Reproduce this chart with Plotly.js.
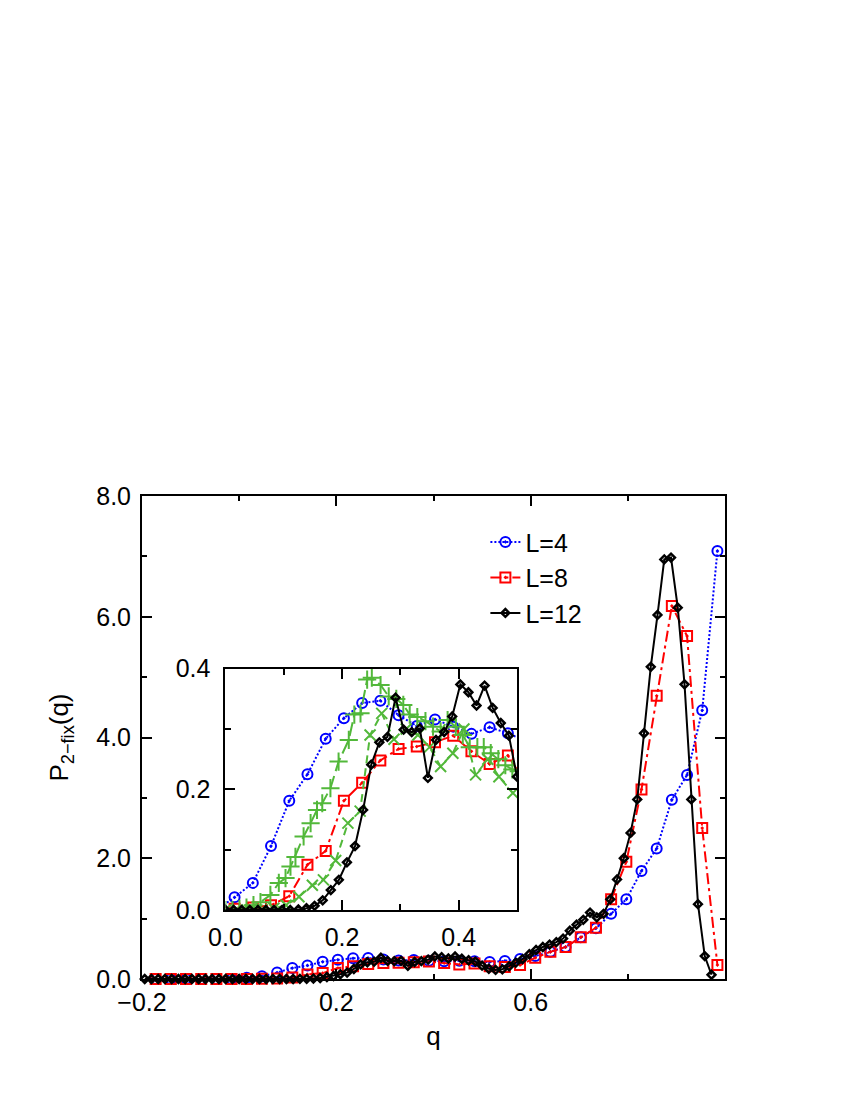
<!DOCTYPE html>
<html>
<head>
<meta charset="utf-8">
<script src="https://cdn.plot.ly/plotly-3.0.1.min.js"></script>
<style>
html,body{margin:0;padding:0;background:#fff;}
#chart{width:850px;height:1100px;}
</style>
</head>
<body>
<div id="chart"></div>
<script>
// ---- data ----
const seriesNames = ["L=4", "L=8", "L=12"];

const qL4 = [-0.1719, -0.1406, -0.1094, -0.0781, -0.0469, -0.0156, 0.0156, 0.0469, 0.0781, 0.1094, 0.1406, 0.1719, 0.2031, 0.2344, 0.2656, 0.2969, 0.3281, 0.3594, 0.3906, 0.4219, 0.4531, 0.4844, 0.5156, 0.5469, 0.5781, 0.6094, 0.6406, 0.6719, 0.7031, 0.7344, 0.7656, 0.7969, 0.8281, 0.8594, 0.8906, 0.9219, 0.9531, 0.9844];
const pL4 = [0, 0, 0, 0, 0, 0, 0.021, 0.045, 0.106, 0.181, 0.225, 0.284, 0.318, 0.343, 0.347, 0.323, 0.305, 0.316, 0.304, 0.292, 0.303, 0.293, 0.28, 0.30, 0.33, 0.38, 0.45, 0.53, 0.69, 0.84, 1.08, 1.32, 1.79, 2.16, 2.97, 3.38, 4.45, 7.09];

const qL8 = [-0.1719, -0.1406, -0.1094, -0.0781, -0.0469, -0.0156, 0.0156, 0.0469, 0.0781, 0.1094, 0.1406, 0.1719, 0.2031, 0.2344, 0.2656, 0.2969, 0.3281, 0.3594, 0.3906, 0.4219, 0.4531, 0.4844, 0.5156, 0.5469, 0.5781, 0.6094, 0.6406, 0.6719, 0.7031, 0.7344, 0.7656, 0.7969, 0.8281, 0.8594, 0.8906, 0.9219, 0.9531, 0.9844];
const pL8 = [0, 0, 0, 0, 0, 0, 0.002, 0.004, 0.008, 0.023, 0.075, 0.098, 0.181, 0.211, 0.248, 0.267, 0.271, 0.278, 0.289, 0.263, 0.242, 0.256, 0.21, 0.20, 0.23, 0.35, 0.45, 0.53, 0.69, 0.85, 1.32, 1.94, 3.14, 4.69, 6.18, 5.68, 2.50, 0.23];

const qL12 = [-0.1944, -0.1806, -0.1667, -0.1528, -0.1389, -0.125, -0.1111, -0.0972, -0.0833, -0.0694, -0.0556, -0.0417, -0.0278, -0.0139,
  0, 0.0139, 0.0278, 0.0417, 0.0556, 0.0694, 0.0833, 0.0972, 0.1111, 0.125, 0.1389, 0.1528, 0.1667, 0.1806, 0.1944, 0.2083, 0.2222, 0.2361,
  0.25, 0.2639, 0.2778, 0.2917, 0.3056, 0.3194, 0.3333, 0.3472, 0.3611, 0.375, 0.3889, 0.4028, 0.4167, 0.4306, 0.4444, 0.4583, 0.4722, 0.4861,
  0.5, 0.5139, 0.5278, 0.5417, 0.5556, 0.5694, 0.5833, 0.5972, 0.6111, 0.625, 0.6389, 0.6528, 0.6667, 0.6806, 0.6944, 0.7083, 0.7222, 0.7361,
  0.75, 0.7639, 0.7778, 0.7917, 0.8056, 0.8194, 0.8333, 0.8472, 0.8611, 0.875, 0.8889, 0.9028, 0.9167, 0.9306, 0.9444, 0.9583, 0.9722];
const pL12 = [0, 0, 0, 0, 0, 0, 0, 0, 0, 0, 0, 0, 0, 0,
  0, 0, 0, 0, 0, 0, 0, 0, 0.0, 0.001, 0.003, 0.007, 0.016, 0.033, 0.050, 0.079, 0.106, 0.166,
  0.241, 0.278, 0.287, 0.352, 0.299, 0.295, 0.301, 0.219, 0.282, 0.295, 0.321, 0.374, 0.361, 0.339, 0.372, 0.335, 0.310, 0.289,
  0.221, 0.17, 0.15, 0.16, 0.21, 0.27, 0.33, 0.41, 0.48, 0.53, 0.57, 0.61, 0.67, 0.80, 0.90, 0.98, 1.10, 1.02,
  1.08, 1.32, 1.65, 2.00, 2.42, 2.975, 4.07, 5.17, 6.03, 6.95, 6.98, 6.15, 4.88, 2.975, 1.24, 0.38, 0.07];

// inset-only green series
const qGreenPlus = [0.0, 0.012, 0.024, 0.036, 0.048, 0.06, 0.077, 0.0915, 0.103, 0.1115, 0.12, 0.134, 0.146, 0.157, 0.166, 0.18, 0.194, 0.2115, 0.221, 0.2316, 0.243, 0.251, 0.266, 0.28, 0.293, 0.305, 0.316, 0.329, 0.343, 0.356, 0.369, 0.381, 0.395, 0.407, 0.419, 0.432, 0.443, 0.455, 0.468, 0.48, 0.492, 0.503];
const pGreenPlus = [0.0, 0.0, 0.002, 0.004, 0.008, 0.013, 0.025, 0.045, 0.053, 0.072, 0.088, 0.122, 0.144, 0.166, 0.177, 0.202, 0.246, 0.282, 0.324, 0.326, 0.382, 0.385, 0.373, 0.354, 0.35, 0.34, 0.324, 0.32, 0.313, 0.304, 0.296, 0.315, 0.304, 0.29, 0.27, 0.27, 0.27, 0.26, 0.25, 0.24, 0.233, 0.23];

const qGreenCross = [0.0, 0.021, 0.042, 0.0625, 0.083, 0.104, 0.126, 0.149, 0.168, 0.189, 0.21, 0.231, 0.248, 0.268, 0.289, 0.31, 0.33, 0.35, 0.369, 0.39, 0.409, 0.429, 0.45, 0.469, 0.493];
const pGreenCross = [0.0, 0.0, 0.0, 0.001, 0.003, 0.008, 0.022, 0.041, 0.050, 0.082, 0.144, 0.164, 0.29, 0.326, 0.283, 0.30, 0.29, 0.27, 0.238, 0.26, 0.30, 0.224, 0.25, 0.221, 0.194];

// ---- styles ----
const FONT = "Liberation Sans, Arial, Helvetica, sans-serif";
const BLUE = "#0000ff", RED = "#ff0000", BLACK = "#000000", GREEN = "#52b83a";

const styleL4 = {line: {color: BLUE, width: 2, dash: "2px,2px"}, marker: {symbol: "circle-open-dot", size: 10, color: BLUE, line: {color: BLUE, width: 2}}};
const styleL8 = {line: {color: RED, width: 2, dash: "11px,4px,3px,4px"}, marker: {symbol: "square-open-dot", size: 10, color: RED, line: {color: RED, width: 2}}};
const styleL12 = {line: {color: BLACK, width: 2, dash: "solid"}, marker: {symbol: "diamond-open", size: 6, color: BLACK, line: {color: BLACK, width: 2.5}}};

function tr(x, y, style, name, xa, ya, show, clip) {
  return Object.assign({type: "scatter", mode: "lines+markers", x: x, y: y, name: name,
    xaxis: xa, yaxis: ya, showlegend: show, cliponaxis: clip, hoverinfo: "skip"}, JSON.parse(JSON.stringify(style)));
}

const traces = [
  tr(qL4, pL4, styleL4, seriesNames[0], "x", "y", true, false),
  tr(qL8, pL8, styleL8, seriesNames[1], "x", "y", true, false),
  tr(qL12, pL12, styleL12, seriesNames[2], "x", "y", true, false),
  tr(qL4, pL4, styleL4, seriesNames[0], "x2", "y2", false, true),
  tr(qL8, pL8, styleL8, seriesNames[1], "x2", "y2", false, true),
  tr(qGreenCross, pGreenCross, {line: {color: GREEN, width: 2, dash: "8px,5px"}, marker: {symbol: "x-thin-open", size: 11, color: GREEN, line: {color: GREEN, width: 2}}}, "green x", "x2", "y2", false, true),
  tr(qGreenPlus, pGreenPlus, {line: {color: GREEN, width: 2, dash: "14px,5px"}, marker: {symbol: "cross-thin-open", size: 13, color: GREEN, line: {color: GREEN, width: 2}}}, "green +", "x2", "y2", false, true),
  tr(qL12, pL12, styleL12, seriesNames[2], "x2", "y2", false, true)
];

const axCommon = {showline: true, linecolor: "#000", linewidth: 2, mirror: "ticks", ticks: "inside",
  tickcolor: "#000", tickwidth: 2, ticklen: 10, showgrid: false, zeroline: false, fixedrange: true,
  tickfont: {family: FONT, size: 25, color: "#000"}};

const layout = {
  width: 850, height: 1100,
  margin: {l: 142, r: 125, t: 496, b: 121, pad: 0},
  paper_bgcolor: "#fff", plot_bgcolor: "#fff",
  font: {family: FONT, size: 25, color: "#000"},
  showlegend: true,
  legend: {x: 0.589, y: 0.952, xanchor: "left", yanchor: "top", bgcolor: "rgba(0,0,0,0)",
    font: {family: FONT, size: 25, color: "#000"}, tracegroupgap: 0, itemwidth: 30},
  xaxis: Object.assign({}, axCommon, {domain: [0, 1], range: [-0.2, 1.0], anchor: "y",
    tickmode: "array", tickvals: [-0.2, 0.2, 0.6], ticktext: ["\u22120.2", "0.2", "0.6"],
    minor: {tickvals: [0.0, 0.4, 0.8], ticklen: 5, tickwidth: 2, tickcolor: "#000", ticks: "inside"},
    automargin: true,
    title: {text: "q", font: {family: FONT, size: 26}, standoff: 12}}),
  yaxis: Object.assign({}, axCommon, {domain: [0, 1], range: [0, 8], anchor: "x",
    tickmode: "array", tickvals: [0, 2, 4, 6, 8], ticktext: ["0.0", "2.0", "4.0", "6.0", "8.0"],
    ticklabelstandoff: 4,
    minor: {tickvals: [1, 3, 5, 7], ticklen: 5, tickwidth: 2, tickcolor: "#000", ticks: "inside"},
    automargin: true,
    title: {text: "P<sub>2\u2212fix</sub>(q)", font: {family: FONT, size: 26}, standoff: 20}}),
  xaxis2: Object.assign({}, axCommon, {domain: [0.1432, 0.6432], range: [0, 0.5], anchor: "y2",
    tickmode: "array", tickvals: [0, 0.2, 0.4], ticktext: ["0.0", "0.2", "0.4"],
    ticklabelstandoff: 4, automargin: false,
    minor: {tickvals: [0.1, 0.3, 0.5], ticklen: 6, tickwidth: 2, tickcolor: "#000", ticks: "inside"}}),
  yaxis2: Object.assign({}, axCommon, {domain: [0.1428, 0.6424], range: [0, 0.4], anchor: "x2",
    tickmode: "array", tickvals: [0, 0.2, 0.4], ticktext: ["0.0", "0.2", "0.4"],
    ticklabelstandoff: 8, automargin: false,
    minor: {tickvals: [0.1, 0.3], ticklen: 6, tickwidth: 2, tickcolor: "#000", ticks: "inside"}})
};

Plotly.newPlot("chart", traces, layout, {staticPlot: true, displayModeBar: false});
</script>
</body>
</html>
